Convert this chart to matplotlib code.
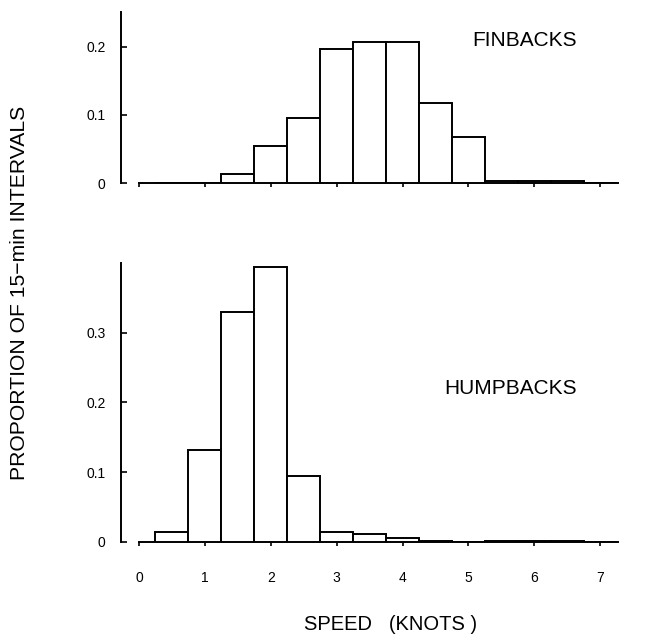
import matplotlib
matplotlib.use("Agg")
import matplotlib.pyplot as plt
import numpy as np

plt.rcParams['font.family'] = ['Liberation Sans', 'DejaVu Sans']

bin_centers = [0.5, 1.0, 1.5, 2.0, 2.5, 3.0, 3.5, 4.0, 4.5, 5.0, 5.5, 6.0, 6.5, 7.0]
finbacks = [0.0, 0.0, 0.014, 0.055, 0.096, 0.196, 0.206, 0.206, 0.118, 0.068, 0.003, 0.004, 0.004, 0.0]
humpbacks = [0.014, 0.132, 0.330, 0.394, 0.094, 0.014, 0.011, 0.005, 0.001, 0.0, 0.001, 0.001, 0.001, 0.0]
bin_width = 0.5
x_ticks = [0, 1, 2, 3, 4, 5, 6, 7]
fin_yticks = [0, 0.1, 0.2]
fin_ylabels = ['0', '0.1', '0.2']
hump_yticks = [0, 0.1, 0.2, 0.3]
hump_ylabels = ['0', '0.1', '0.2', '0.3']

W, H = 650, 637
fig = plt.figure(figsize=(6.5, 6.37), dpi=100)

def px_axes(left, right, top, bottom):
    return fig.add_axes([left / W, 1 - bottom / H, (right - left) / W, (bottom - top) / H])

xlim = (-0.273, 7.3)
ax1 = px_axes(121, 620, 11.7, 183.3)
ax2 = px_axes(121, 620, 263, 541.7)

lw = 1.4
for ax, vals, yt, yl, ymax, name, tx, ty in [
    (ax1, finbacks, fin_yticks, fin_ylabels, 0.251, 'FINBACKS', 0.913, 0.83),
    (ax2, humpbacks, hump_yticks, hump_ylabels, 0.4, 'HUMPBACKS', 0.913, 0.55),
]:
    ax.bar(bin_centers, vals, width=bin_width, facecolor='white', edgecolor='black',
           linewidth=lw, align='center', zorder=3)
    ax.set_xlim(*xlim)
    ax.set_ylim(0, ymax)
    for s in ['top', 'right']:
        ax.spines[s].set_visible(False)
    ax.spines['bottom'].set_bounds(0, 7.27)
    ax.spines['left'].set_bounds(0, ymax)
    ax.spines['bottom'].set_linewidth(lw)
    ax.spines['left'].set_linewidth(lw)
    ax.set_yticks(yt)
    ax.set_yticklabels(yl)
    ax.set_xticks(x_ticks)
    ax.tick_params(axis='y', direction='in', length=4, width=1.2, pad=11, labelsize=10)
    ax.tick_params(axis='x', direction='out', length=3, width=1.2, pad=18, labelsize=10)
    ax.text(tx, ty, name, transform=ax.transAxes, ha='right', va='center', fontsize=15)

ax1.set_xticklabels([])

fig.text(20 / W, 1 - 293 / H, 'PROPORTION OF 15\u2212min INTERVALS', rotation=90,
         ha='center', va='center', fontsize=15.2)
fig.text(391 / W, 1 - 625 / H, 'SPEED   (KNOTS )', ha='center', va='center', fontsize=14.5)

fig.savefig('out.png', dpi=100)
